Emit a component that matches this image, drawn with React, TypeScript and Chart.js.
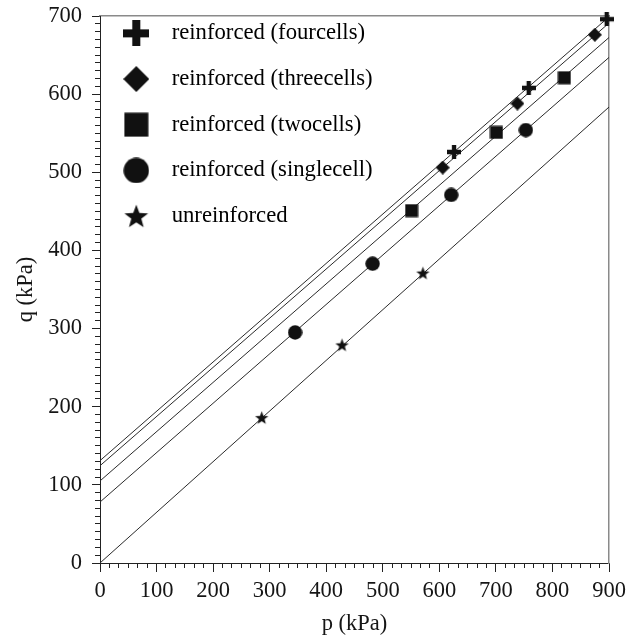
import React, { useEffect, useRef } from 'react';
import { Chart, registerables } from 'chart.js';

Chart.register(...registerables);

// ---------- data ----------
const seriesNames = [
  'reinforced (fourcells)',
  'reinforced (threecells)',
  'reinforced (twocells)',
  'reinforced (singlecell)',
  'unreinforced',
];
const markerShapes = ['plus', 'diamond', 'square', 'circle', 'star'];

const pFour = [626, 758, 896];
const qFour = [526, 608, 696];
const pThree = [606, 738, 875];
const qThree = [506, 588, 676];
const pTwo = [551, 701, 821];
const qTwo = [451, 551, 621];
const pSingle = [345, 482, 621, 753];
const qSingle = [295, 383, 471, 554];
const pUnreinforced = [286, 428, 571];
const qUnreinforced = [186, 279, 371];

// fitted failure envelopes: q at p = 0 and q at p = 900
const fitRangeP = [0, 900];
const fitQStart = [131, 124.5, 105, 78, 0];
const fitQEnd = [699, 691, 672.5, 647, 583.5];

const xMajorTicks = [0, 100, 200, 300, 400, 500, 600, 700, 800, 900];
const yMajorTicks = [0, 100, 200, 300, 400, 500, 600, 700];
const xMinorPerMajor = 6;
const yMinorPerMajor = 10;

// ---------- helpers ----------
const FONT = '"Liberation Serif", "Times New Roman", serif';
const INK = '#111111';
const TEXT = '#151515';

function makeMarker(shape: string, size: number): HTMLCanvasElement {
  const c = document.createElement('canvas');
  c.width = size;
  c.height = size;
  const g = c.getContext('2d') as CanvasRenderingContext2D;
  g.fillStyle = INK;
  const s = size;
  const h = s / 2;
  g.beginPath();
  if (shape === 'plus') {
    const t = s * 0.31;
    g.rect(0, h - t / 2, s, t);
    g.rect(h - t / 2, 0, t, s);
  } else if (shape === 'diamond') {
    g.moveTo(h, 0);
    g.lineTo(s, h);
    g.lineTo(h, s);
    g.lineTo(0, h);
    g.closePath();
  } else if (shape === 'square') {
    g.rect(0.5, 0.5, s - 1, s - 1);
  } else if (shape === 'circle') {
    g.arc(h, h, h - 0.3, 0, Math.PI * 2);
  } else {
    const R = h - 0.5;
    const r = R * 0.42;
    const cy = h + R * 0.08;
    for (let i = 0; i < 10; i++) {
      const ang = -Math.PI / 2 + (i * Math.PI) / 5;
      const rad = i % 2 === 0 ? R : r;
      const px = h + rad * Math.cos(ang);
      const py = cy + rad * Math.sin(ang);
      if (i === 0) g.moveTo(px, py);
      else g.lineTo(px, py);
    }
    g.closePath();
  }
  g.fill();
  return c;
}

function minorTicks(majors: number[], per: number): number[] {
  const out: number[] = [];
  for (let i = 0; i < majors.length - 1; i++) {
    const a = majors[i];
    const b = majors[i + 1];
    for (let k = 0; k < per; k++) out.push(a + ((b - a) * k) / per);
  }
  out.push(majors[majors.length - 1]);
  return out;
}

const legendPlacer = {
  id: 'legendPlacer',
  beforeDraw(chart: any) {
    const lg = chart.legend;
    if (!lg) return;
    lg.left = 89.3;
    lg.top = chart.chartArea.top - 17;
    lg.right = lg.left + 430;
    lg.bottom = lg.top + 330;
  },
};

const noPad = (axis: any) => {
  axis.paddingTop = 0;
  axis.paddingBottom = 0;
  axis.paddingLeft = 0;
  axis.paddingRight = 0;
};

export default function App() {
  const ref = useRef<HTMLCanvasElement | null>(null);

  useEffect(() => {
    if (!ref.current) return;
    const pList = [pFour, pThree, pTwo, pSingle, pUnreinforced];
    const qList = [qFour, qThree, qTwo, qSingle, qUnreinforced];
    const chartSizes = [14, 14, 14, 15, 15];
    const legendSizes = [26, 26, 25, 26, 26];
    const chartMarkers = markerShapes.map((s, i) => makeMarker(s, chartSizes[i]));
    const legendMarkers = markerShapes.map((s, i) => makeMarker(s, legendSizes[i]));

    const pointSets = seriesNames.map((name, i) => ({
      type: 'scatter' as const,
      label: name,
      data: pList[i].map((p, j) => ({ x: p, y: qList[i][j] })),
      pointStyle: chartMarkers[i],
      pointRadius: 7,
      backgroundColor: INK,
      borderColor: INK,
      showLine: false,
      clip: false as any,
      order: 0,
    }));
    const lineSets = seriesNames.map((name, i) => ({
      type: 'line' as const,
      label: name + ' fit',
      data: [
        { x: fitRangeP[0], y: fitQStart[i] },
        { x: fitRangeP[1], y: fitQEnd[i] },
      ],
      borderColor: '#2a2a2a',
      borderWidth: 1,
      pointRadius: 0,
      fill: false,
      order: 1,
    }));

    const xMinor = minorTicks(xMajorTicks, xMinorPerMajor);
    const yMinor = minorTicks(yMajorTicks, yMinorPerMajor);
    const tickFont = { family: FONT, size: 22.5 };

    const chart = new Chart(ref.current, {
      type: 'scatter',
      data: { datasets: [...lineSets, ...pointSets] as any },
      plugins: [legendPlacer],
      options: {
        responsive: false,
        animation: false,
        events: [],
        layout: { padding: { top: 16, right: 32, bottom: 0, left: 0 } },
        plugins: {
          tooltip: { enabled: false },
          legend: {
            position: 'chartArea' as any,
            align: 'start',
            labels: {
              usePointStyle: true,
              pointStyleWidth: 48,
              padding: 23,
              color: TEXT,
              font: { family: FONT, size: 22.7 },
              generateLabels: () =>
                seriesNames.map((name, i) => ({
                  text: name,
                  pointStyle: legendMarkers[i],
                  fillStyle: INK,
                  strokeStyle: INK,
                  lineWidth: 0,
                  hidden: false,
                  datasetIndex: 5 + i,
                })) as any,
            },
          },
        },
        scales: {
          x: {
            type: 'linear',
            position: 'bottom',
            weight: 0,
            min: 0,
            max: 900,
            afterBuildTicks: (axis: any) => {
              axis.ticks = xMajorTicks.map((v) => ({ value: v }));
            },
            afterFit: (axis: any) => {
              axis.height = 77;
              noPad(axis);
            },
            grid: { drawOnChartArea: false, tickLength: 9, color: '#222', lineWidth: 1 },
            border: { display: true, color: '#222', width: 1 },
            ticks: {
              color: TEXT,
              font: tickFont,
              padding: 6,
              maxRotation: 0,
              autoSkip: false,
              callback: (v: any) => String(v),
            },
            title: {
              display: true,
              text: 'p (kPa)',
              color: TEXT,
              font: { family: FONT, size: 22.5 },
              padding: { top: 0, bottom: 2 },
            },
          },
          xMinor: {
            type: 'linear',
            position: 'bottom',
            weight: -1,
            min: 0,
            max: 900,
            afterBuildTicks: (axis: any) => {
              axis.ticks = xMinor.map((v) => ({ value: v }));
            },
            afterFit: (axis: any) => {
              axis.height = 0;
              noPad(axis);
            },
            grid: { drawOnChartArea: false, tickLength: 5, color: '#222', lineWidth: 1 },
            border: { display: false },
            ticks: { display: false },
          },
          xTop: {
            type: 'linear',
            position: 'top',
            min: 0,
            max: 900,
            afterFit: (axis: any) => {
              axis.height = 0;
              noPad(axis);
            },
            grid: { display: false, drawOnChartArea: false, drawTicks: false },
            border: { display: true, color: '#8a8a8a', width: 1.5 },
            ticks: { display: false },
          },
          y: {
            type: 'linear',
            position: 'left',
            weight: 0,
            min: 0,
            max: 700,
            afterBuildTicks: (axis: any) => {
              axis.ticks = yMajorTicks.map((v) => ({ value: v }));
            },
            afterFit: (axis: any) => {
              axis.width = 100;
              noPad(axis);
            },
            grid: { drawOnChartArea: false, tickLength: 8, color: '#222', lineWidth: 1 },
            border: { display: true, color: '#222', width: 1 },
            ticks: {
              color: TEXT,
              font: tickFont,
              padding: 10,
              autoSkip: false,
              callback: (v: any) => String(v),
            },
            title: {
              display: true,
              text: 'q (kPa)',
              color: TEXT,
              font: { family: FONT, size: 22.5 },
              padding: { top: 13, bottom: 0 },
            },
          },
          yMinor: {
            type: 'linear',
            position: 'left',
            weight: -1,
            min: 0,
            max: 700,
            afterBuildTicks: (axis: any) => {
              axis.ticks = yMinor.map((v) => ({ value: v }));
            },
            afterFit: (axis: any) => {
              axis.width = 0;
              noPad(axis);
            },
            grid: { drawOnChartArea: false, tickLength: 5, color: '#222', lineWidth: 1 },
            border: { display: false },
            ticks: { display: false },
          },
          yRight: {
            type: 'linear',
            position: 'right',
            min: 0,
            max: 700,
            afterFit: (axis: any) => {
              axis.width = 0;
              noPad(axis);
            },
            grid: { display: false, drawOnChartArea: false, drawTicks: false },
            border: { display: true, color: '#8a8a8a', width: 1.5 },
            ticks: { display: false },
          },
        } as any,
      },
    });
    return () => chart.destroy();
  }, []);

  return (
    <div style={{ position: 'absolute', left: 0, top: 0, width: 641, height: 640, background: '#fff' }}>
      <canvas ref={ref} width={641} height={640} style={{ display: 'block' }} />
    </div>
  );
}
